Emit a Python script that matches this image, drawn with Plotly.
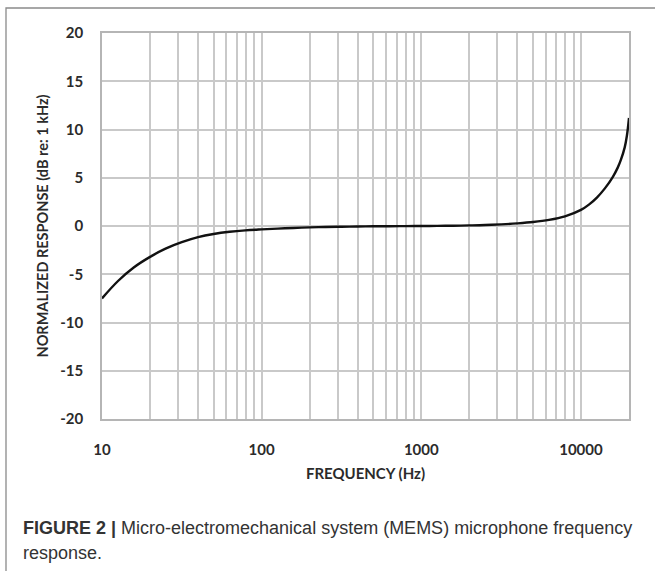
import plotly.graph_objects as go

# Data
freq_hz = [10, 12.6, 15.8, 20, 25, 31.6, 40, 50, 63, 79, 100, 126, 158, 200, 251, 316,
           398, 501, 631, 794, 1000, 1259, 1585, 1995, 2512, 3162, 3981, 5012, 6310,
           7943, 10000, 11220, 12589, 14125, 15849, 17000, 17783, 18800, 19400, 20000]
response_db = [-7.5, -5.7, -4.3, -3.2, -2.35, -1.68, -1.16, -0.83, -0.6, -0.45, -0.35,
               -0.27, -0.2, -0.14, -0.1, -0.07, -0.05, -0.03, -0.02, -0.01, 0.0, 0.01,
               0.03, 0.06, 0.1, 0.17, 0.27, 0.41, 0.63, 1.0, 1.67, 2.22, 2.95, 3.9,
               5.1, 6.05, 6.85, 8.15, 9.35, 11.2]

x_major = [10, 100, 1000, 10000]
x_major_labels = ["10", "100", "1000", "10000"]
y_ticks = [-20, -15, -10, -5, 0, 5, 10, 15, 20]
y_tick_labels = ["-20", "-15", "-10", "-5", "0", "5", "10", "15", "20"]
caption_bold = "FIGURE 2 |"
caption_line1 = "Micro-electromechanical system (MEMS) microphone frequency"
caption_line2 = "response."

x_grid = []
for d in [10, 100, 1000, 10000]:
    for m in range(1, 10):
        v = d * m
        if v <= 20000:
            x_grid.append(v)
x_grid.append(20000)
x_grid_text = ["<b>" + x_major_labels[x_major.index(v)] + "</b>" if v in x_major else "" for v in x_grid]
y_tick_text = ["<b>" + t + "</b>" for t in y_tick_labels]

fig = go.Figure()
fig.add_trace(go.Scatter(x=freq_hz, y=response_db, mode="lines",
                         line=dict(color="#111111", width=2.4, shape="spline", smoothing=1.0),
                         showlegend=False, hoverinfo="skip"))

L, R, T, B = 102, 26, 33, 152
W, H = 655, 571
pw, ph = W - L - R, H - T - B

def px(x):
    return (x - L) / pw

def py(y):
    return (H - B - y) / ph

FONT = "Lato, 'Open Sans', sans-serif"
tickfont = dict(family=FONT, size=15, color="#2b2b2b")

fig.update_layout(
    width=W, height=H,
    margin=dict(l=L, r=R, t=T, b=B, pad=0),
    paper_bgcolor="white", plot_bgcolor="white",
    xaxis=dict(type="log", range=[1, 4.30103], tickmode="array", tickvals=x_grid,
               ticktext=x_grid_text, showgrid=True, gridcolor="#c9c9c9", gridwidth=1.7,
               showline=True, linecolor="#b5b5b5", linewidth=1.7, mirror=True,
               ticks="outside", ticklen=16, tickcolor="rgba(0,0,0,0)", tickfont=tickfont,
               zeroline=False,
               title=dict(text="<b>FREQUENCY (Hz)</b>", standoff=12,
                          font=dict(family=FONT, size=15, color="#2b2b2b"))),
    yaxis=dict(range=[-20, 20], tickmode="array", tickvals=y_ticks, ticktext=y_tick_text,
               showgrid=True, gridcolor="#c9c9c9", gridwidth=1.7, zeroline=False,
               showline=True, linecolor="#b5b5b5", linewidth=1.7, mirror=True,
               ticks="outside", ticklen=14, tickcolor="rgba(0,0,0,0)", tickfont=tickfont,
               title=dict(text="<b>NORMALIZED RESPONSE (dB re: 1 kHz)</b>", standoff=8,
                          font=dict(family=FONT, size=14.5, color="#2b2b2b"))),
)

# outer figure frame (top and left visible)
fig.add_shape(type="rect", xref="paper", yref="paper",
              x0=px(6), x1=px(720), y0=py(640), y1=py(8),
              line=dict(color="#8a8a8a", width=1.3), fillcolor="rgba(0,0,0,0)", layer="below")

capfont = dict(family="Liberation Sans, Arial, sans-serif", size=18, color="#333333")
fig.add_annotation(xref="paper", yref="paper", x=px(21), y=py(528), xanchor="left", yanchor="middle",
                   align="left", showarrow=False,
                   text="<b>" + caption_bold + "</b> " + caption_line1, font=capfont)
fig.add_annotation(xref="paper", yref="paper", x=px(21), y=py(553), xanchor="left", yanchor="middle",
                   align="left", showarrow=False, text=caption_line2, font=capfont)

fig.write_html("out.html")
